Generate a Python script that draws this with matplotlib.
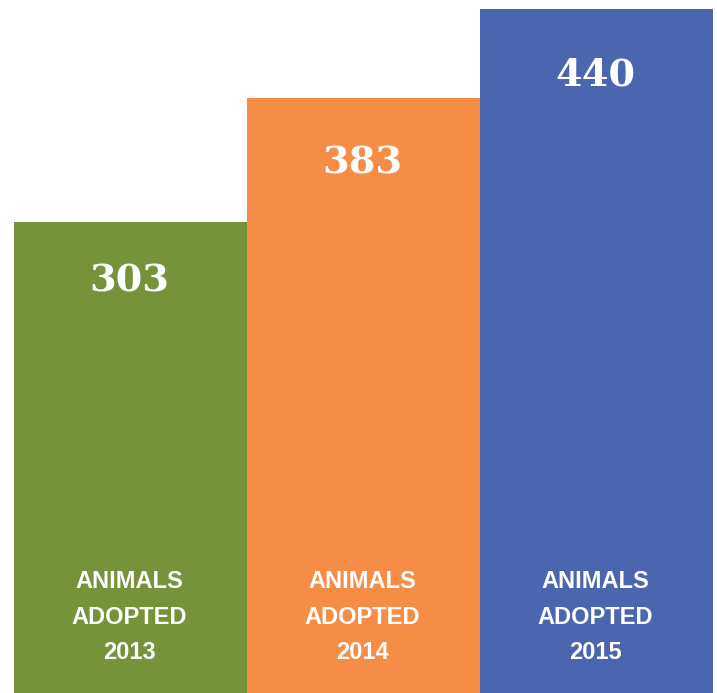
import matplotlib
matplotlib.use("Agg")
import matplotlib.pyplot as plt

categories = ["2013", "2014", "2015"]
values = [303, 383, 440]
label_lines = ["ANIMALS", "ADOPTED"]
colors = ["#76923A", "#F68D47", "#4A66AE"]

W, H, DPI = 717, 693, 100
fig = plt.figure(figsize=(W / DPI, H / DPI), dpi=DPI)
ax = fig.add_axes([0, 0, 1, 1])
ax.set_axis_off()

x = list(range(len(values)))
ax.bar(x, values, width=1.0, color=colors, linewidth=0)

px_per_unit = 233.0
ax.set_xlim(-0.5 - 14 / px_per_unit, len(values) - 0.5 + 4 / px_per_unit)
ax.set_ylim(0, 440 * H / (H - 9))

num_font = dict(family=["DejaVu Serif"], weight="bold", fontsize=27.5, color="white")
lab_font = dict(family=["Liberation Sans", "DejaVu Sans"], weight="bold", fontsize=17, color="white")

pt = 72 / DPI
num_baseline_px = [70, 76, 77]      # distance below bar top (pixels)
label_baseline_px = [105, 69, 34]   # distance above bar bottom (pixels)

for xi, v, cat, nb in zip(x, values, categories, num_baseline_px):
    ax.annotate(str(v), xy=(xi, v), xytext=(-1.5 * pt, -nb * pt), textcoords="offset points",
                ha="center", va="baseline", **num_font)
    lines = label_lines + [cat]
    for line, off in zip(lines, label_baseline_px):
        ax.annotate(line, xy=(xi, 0), xytext=(-1.5 * pt, off * pt), textcoords="offset points",
                    ha="center", va="baseline", **lab_font)

fig.savefig("out.png", dpi=DPI)
